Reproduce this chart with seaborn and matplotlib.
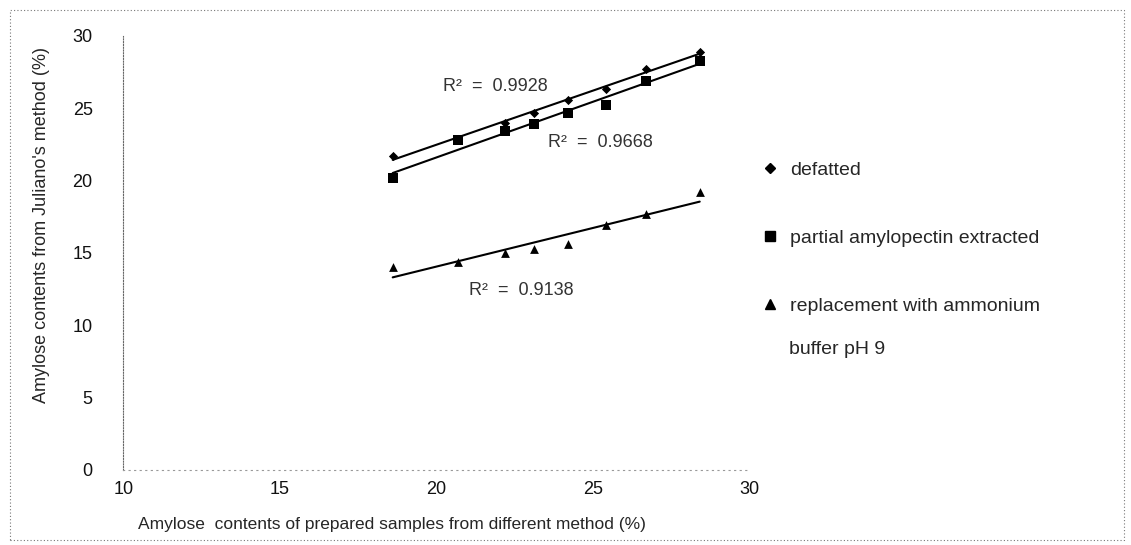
import matplotlib
matplotlib.use("Agg")
import matplotlib.pyplot as plt
from matplotlib.lines import Line2D
from matplotlib.patches import Rectangle
import pandas as pd
import seaborn as sns

# amylose of prepared samples (x) vs Juliano's method (y)
x_values = [18.6, 20.7, 22.2, 23.1, 24.2, 25.4, 26.7, 28.4]
defatted = [21.7, 22.9, 24.0, 24.7, 25.6, 26.3, 27.7, 28.9]
partial = [20.2, 22.8, 23.4, 23.9, 24.7, 25.2, 26.9, 28.3]
replacement = [14.0, 14.4, 15.0, 15.3, 15.6, 16.9, 17.7, 19.2]

series_names = ["defatted", "partial amylopectin extracted", "replacement with ammonium"]
r2_labels = ["R²  =  0.9928", "R²  =  0.9668", "R²  =  0.9138"]
r2_pos = [(20.2, 26.5), (23.55, 22.6), (21.05, 12.4)]
x_ticks = [10, 15, 20, 25, 30]
y_ticks = [0, 5, 10, 15, 20, 25, 30]

df = pd.DataFrame({"x": x_values, "defatted": defatted,
                   "partial": partial, "replacement": replacement})

sns.set_style("white")
plt.rcParams["font.family"] = ["Liberation Sans", "DejaVu Sans"]

fig = plt.figure(figsize=(11.31, 5.45), dpi=100)
ax = fig.add_axes([0.109, 0.138, 0.554, 0.796])

styles = [("defatted", "D", 22), ("partial", "s", 45), ("replacement", "^", 40)]
for col, mk, sz in styles:
    sns.regplot(data=df, x="x", y=col, ax=ax, ci=None, marker=mk, color="black",
                scatter_kws={"s": sz, "linewidths": 0, "alpha": 1},
                line_kws={"lw": 1.5, "color": "black"})

for txt, (tx, ty) in zip(r2_labels, r2_pos):
    ax.text(tx, ty, txt, fontsize=13, va="center", ha="left", color="#333333")

ax.set_xlim(10, 30)
ax.set_ylim(0, 30)
ax.set_xticks(x_ticks)
ax.set_yticks(y_ticks)
ax.tick_params(axis="both", length=0, labelsize=13, colors="#111111")
ax.tick_params(axis="y", pad=22)
ax.tick_params(axis="x", pad=8)

for s in ["top", "right"]:
    ax.spines[s].set_visible(False)
ax.spines["left"].set_linestyle((0, (1, 1.5)))
ax.spines["left"].set_color("#666666")
ax.spines["left"].set_linewidth(0.8)
ax.spines["bottom"].set_linestyle((0, (1, 4)))
ax.spines["bottom"].set_color("#999999")
ax.spines["bottom"].set_linewidth(0.8)

ax.set_xlabel("Amylose  contents of prepared samples from different method (%)",
              fontsize=12.5)
ax.xaxis.set_label_coords(0.429, -0.108)
ax.set_ylabel("Amylose contents from Juliano's method (%)", fontsize=13,
              family=["Liberation Sans Narrow", "Liberation Sans", "DejaVu Sans"])
ax.yaxis.set_label_coords(-0.117, 0.565)

handles = [Line2D([], [], ls="none", marker=mk, color="black",
                  markersize=5 if mk == "D" else 7)
           for _, mk, _ in styles]
fig.legend(handles, series_names, loc="upper left", bbox_to_anchor=(0.664, 0.722),
           frameon=False, fontsize=14, labelspacing=2.6, handletextpad=0.5,
           handlelength=1.0, borderpad=0)
fig.text(0.698, 1 - 350 / 545, "buffer pH 9", fontsize=14, va="center", ha="left")

# dotted border of the scanned page
fig.patches.append(Rectangle((0.009, 0.01), 0.985, 0.972, transform=fig.transFigure,
                             fill=False, ls=(0, (1, 2)), lw=0.8, ec="#777777"))

fig.savefig("out.png", dpi=100)
